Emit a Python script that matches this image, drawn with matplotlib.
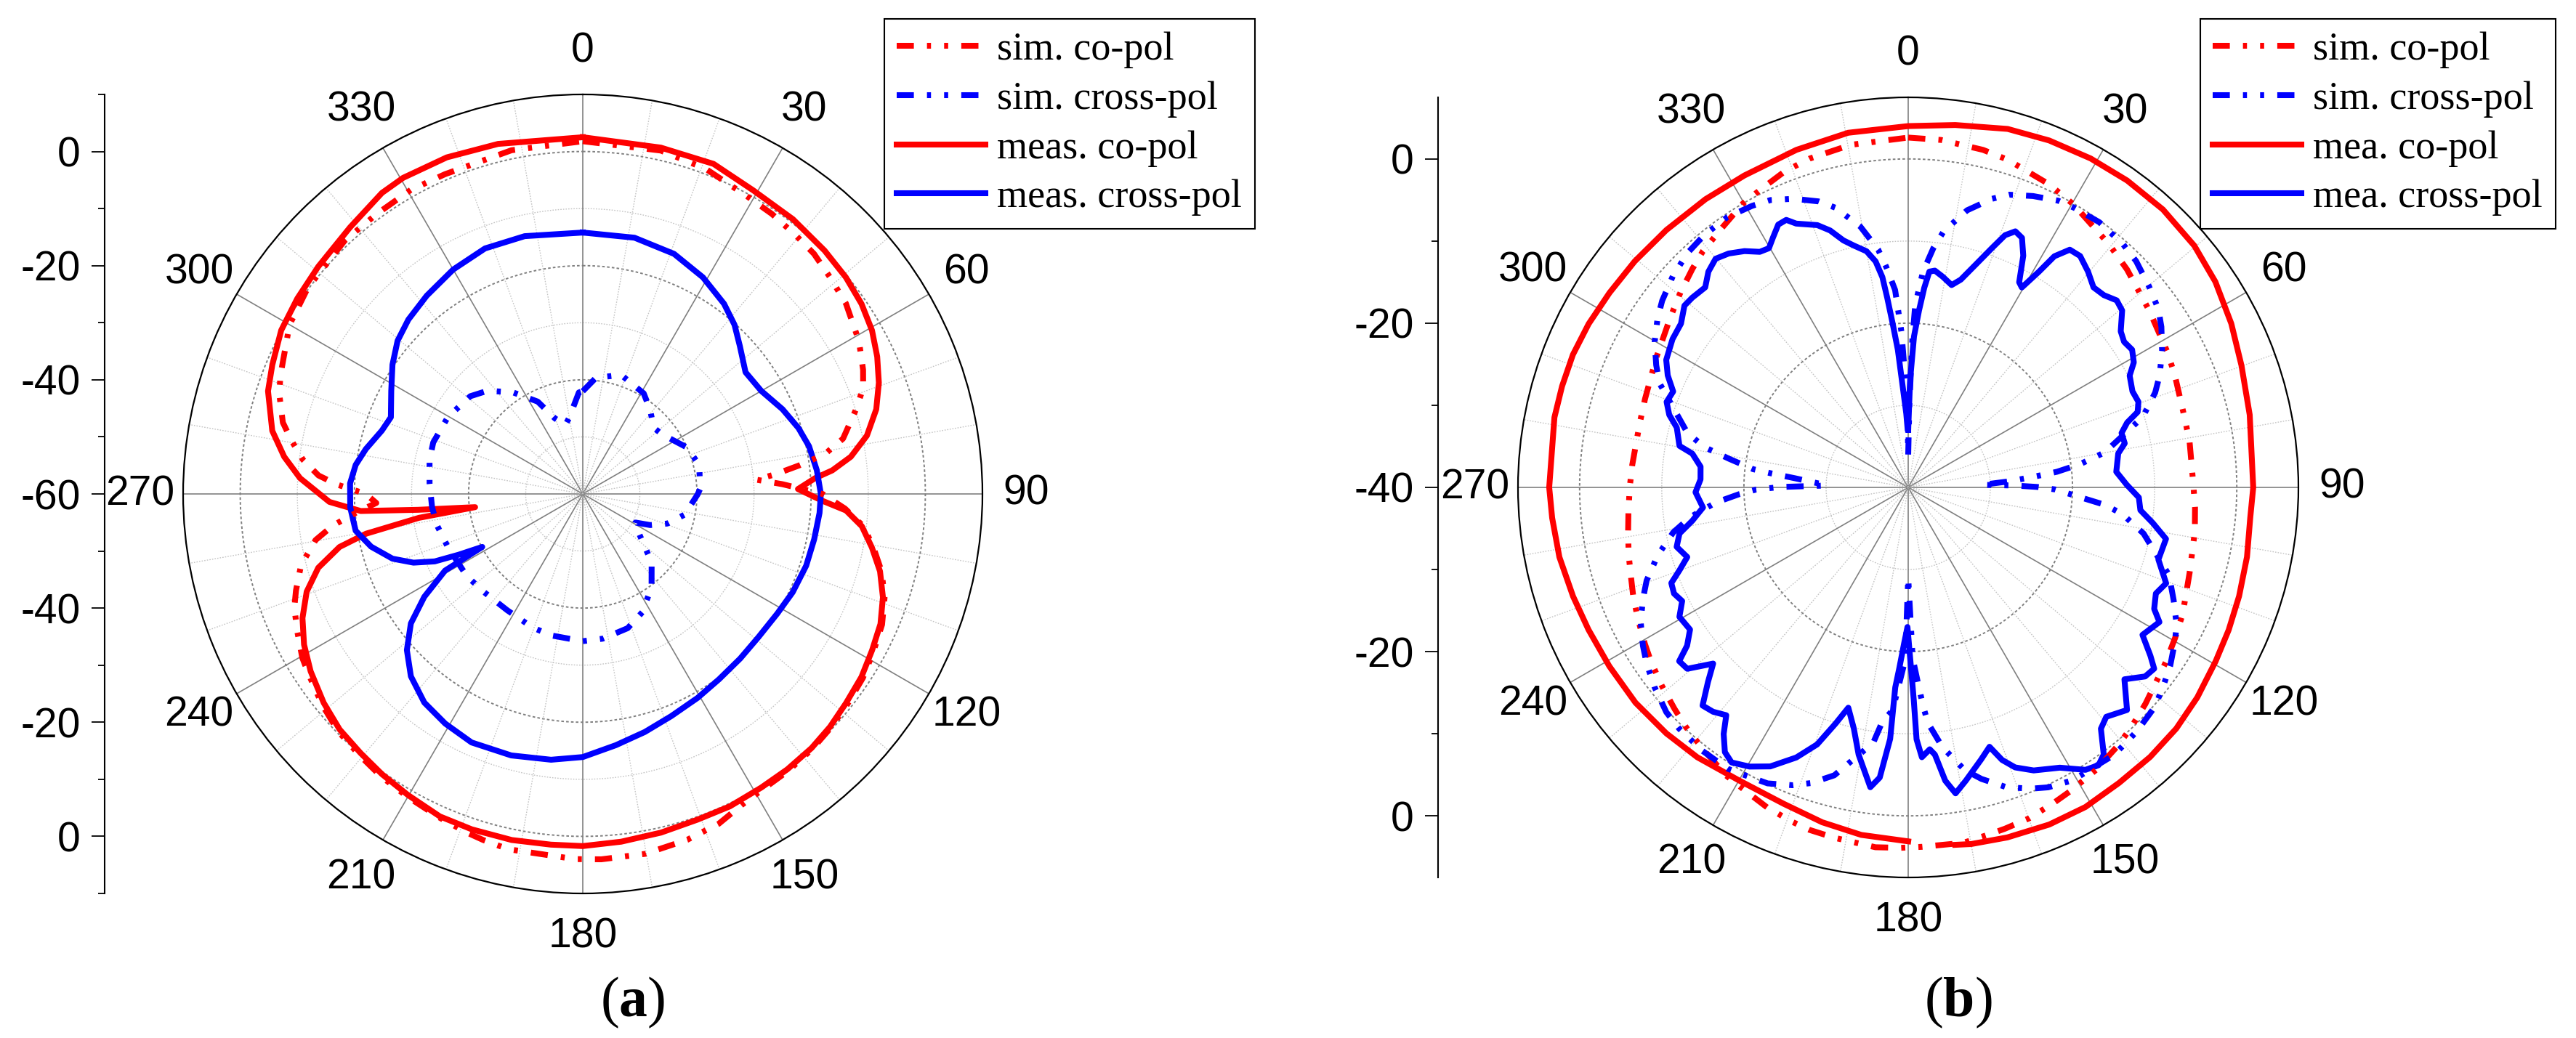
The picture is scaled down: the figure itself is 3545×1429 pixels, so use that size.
import numpy as np
import matplotlib
matplotlib.use('Agg')
import matplotlib.pyplot as plt

plt.rcParams['font.family'] = ['Liberation Sans', 'DejaVu Sans']
plt.rcParams['lines.scale_dashes'] = False
plt.rcParams['mathtext.fontset'] = 'custom'
plt.rcParams['mathtext.rm'] = 'Liberation Serif'
plt.rcParams['mathtext.bf'] = 'Liberation Serif:bold'

# ---------------- panel (a) data: angle (deg), level (dB) ----------------
a_sim_co_ang = [0, 12.8, 20.7, 28.6, 34.0, 39.4, 43.9, 48.7, 54.1, 61.0, 66.1, 69.3, 72.8, 78.0,
                80.7, 82.5, 84.2, 85.3, 87.2, 90.0, 93.2, 96.6, 100.5, 104.6, 109.0, 113.6, 118.4,
                123.3, 128.5, 133.3, 138.0, 143.4, 148.7, 153.0, 157.6, 163.2, 170.2, 177.1, 181.2,
                191.8, 196.0, 199.0, 204.0, 210.1, 215.6, 220.6, 225.9, 231.1, 236.5, 239.7, 244.3,
                248.5, 251.4, 255.8, 260.2, 262.8, 265.5, 267.5, 270.0, 272.2, 274.0, 277.0, 280.3,
                283.4, 288.3, 291.5, 300.0, 306.9, 316.8, 323.7, 330.5, 336.7, 348.3]
a_sim_co_db = [1.8, 1.7, 0.9, -0.4, -0.8, -1.3, -1.6, -2.4, -3.1, -4.7, -6.3, -7.5, -9.9, -13.4,
               -17.1, -21.8, -26.2, -29.5, -25.0, -18.0, -14.0, -10.5, -8.2, -5.9, -4.1, -2.8, -2.1,
               -1.3, -0.8, -0.3, 0.1, 0.4, 0.6, 1.2, 2.5, 3.3, 4.0, 4.1, 4.0,
               3.6, 3.1, 2.7, 2.0, 1.3, 0.8, 0.2, -0.3, -1.3, -2.5, -3.1, -4.5,
               -5.7, -7.0, -9.1, -12.5, -15.9, -20.5, -23.8, -22.0, -16.9, -13.6, -10.6, -8.2,
               -6.0, -4.0, -3.1, -0.7, 0.2, 0.9, 0.9, 1.2, 1.0, 1.5]

a_sim_x_ang = [0, 6.5, 17.9, 31.2, 38.6, 47.0, 52.0, 57.0, 66.0, 76.0, 87.4, 90.3, 101.5, 109.3,
               114.8, 118.5, 121.0, 125.0, 129.3, 134.8, 143.6, 153.3, 161.5, 172.2, 180.0, 192.6,
               200.6, 212.9, 225.4, 234.8, 248.6, 257.7, 265.0, 274.0, 282.6, 289.0, 299.6, 311.0,
               317.3, 325.5, 334.0, 339.8, 346.0, 350.0, 357.8]
a_sim_x_db = [-42.0, -39.5, -38.1, -39.4, -41.1, -43.0, -42.7, -42.0, -40.0, -39.0, -39.4, -39.9,
              -41.8, -44.3, -47.0, -49.5, -49.4, -48.0, -46.3, -43.0, -39.7, -36.8, -35.2, -34.4,
              -34.2, -34.6, -35.0, -35.7, -35.6, -35.1, -34.6, -33.9, -33.5, -33.1, -32.5, -32.3,
              -32.8, -33.9, -35.4, -38.4, -42.0, -45.9, -47.5, -46.4, -42.2]

a_meas_co_ang = [0, 12.7, 21.6, 29.3, 37.4, 44.8, 50.5, 55.7, 60.5, 65.0, 69.4, 73.9, 78.4, 82.1,
                 84.6, 86.1, 88.7, 91.7, 93.6, 96.6, 100.5, 104.6, 109.0, 113.6, 118.4, 123.3,
                 128.5, 133.3, 138.0, 143.4, 148.7, 154.8, 160.6, 167.0, 173.7, 180.0, 185.2,
                 191.6, 198.3, 203.9, 210.1, 215.6, 220.6, 225.9, 231.1, 236.9, 241.6, 246.1,
                 250.5, 254.4, 257.7, 259.6, 261.7, 263.0, 264.5, 265.6, 268.2, 273.2, 277.1,
                 281.5, 288.1, 292.6, 298.5, 304.4, 310.7, 318.9, 326.3, 330.4, 338.0, 346.4]
a_meas_co_db = [2.5, 2.2, 2.2, 1.0, 0.6, 0.1, -0.3, -0.9, -1.8, -3.1, -4.6, -6.5, -9.2, -12.6,
                -16.1, -19.2, -22.3, -17.9, -13.8, -10.8, -8.5, -6.2, -4.4, -3.1, -2.4, -1.6,
                -1.1, -0.5, -0.1, 0.1, 0.2, 0.5, 0.5, 0.9, 1.3, 1.7, 1.7,
                1.9, 1.9, 1.8, 1.0, 0.4, -0.2, -0.7, -1.7, -3.1, -4.5, -6.3,
                -8.7, -11.9, -16.4, -21.4, -31.0, -41.0, -31.0, -21.0, -15.6, -10.4, -7.3,
                -4.5, -2.0, -1.1, 0.1, 0.6, 1.1, 2.0, 3.4, 3.7, 3.6, 3.1]

a_meas_x_ang = [0, 11.4, 20.8, 29.0, 36.6, 41.9, 46.7, 53.2, 60.0, 67.0, 73.0, 78.1, 84.2, 90.0,
                94.6, 101.1, 107.8, 115.1, 121.6, 129.2, 136.3, 143.7, 150.6, 158.3, 165.4, 172.5,
                180.0, 186.8, 195.3, 204.1, 210.9, 217.2, 223.3, 228.4, 233.0, 237.0, 240.9, 242.2,
                243.9, 245.5, 247.9, 251.2, 256.0, 260.8, 266.7, 272.6, 277.3, 281.7, 287.5, 291.8,
                298.3, 304.2, 309.6, 315.0, 321.8, 330.0, 338.3, 347.3]
a_meas_x_db = [-14.2, -14.2, -15.0, -16.6, -18.5, -20.2, -22.2, -24.4, -23.9, -22.0, -20.5, -19.5,
               -18.8, -18.3, -18.4, -18.7, -18.9, -19.4, -20.0, -20.3, -20.1, -19.7, -19.0, -18.1,
               -16.9, -15.6, -13.9, -13.1, -12.5, -12.3, -13.1, -14.1, -16.1, -18.8, -22.3, -26.9,
               -32.4, -40.1, -35.8, -31.5, -28.0, -24.8, -21.8, -19.7, -19.2, -19.2, -19.9, -21.2,
               -23.1, -23.8, -21.9, -19.7, -17.9, -16.8, -15.8, -14.6, -13.7, -13.7]

# ---------------- panel (b) data ----------------
b_sim_co_ang = [0, 5.4, 12.5, 16.9, 24.9, 30.3, 39.5, 45.1, 53.7, 62.4, 67.3, 75.8, 80.8, 89.2,
                94.0, 98.7, 106.9, 114.8, 119.4, 124.2, 132.4, 137.2, 140.9, 146.4, 151.7, 155.2,
                159.9, 164.2, 167.1, 171.2, 177.8, 181.2, 185.2, 191.9, 196.1, 199.1, 203.7, 208.4,
                212.3, 218.1, 222.8, 226.5, 231.2, 236.0, 239.2, 244.0, 248.4, 251.8, 256.5, 261.2,
                264.8, 270.0, 274.7, 283.4, 288.6, 297.3, 305.6, 310.6, 315.4, 319.0, 324.4, 329.8,
                333.8, 338.6, 343.3, 350.5]
b_sim_co_db = [2.6, 2.5, 2.1, 1.7, 0.7, -0.1, -1.6, -2.4, -3.6, -4.4, -4.8, -5.3, -5.3, -5.3,
               -5.0, -4.7, -4.2, -3.2, -2.7, -2.1, -0.9, -0.1, 0.5, 1.3, 1.9, 2.3,
               2.9, 3.2, 3.4, 3.8, 3.8, 3.9, 4.0, 3.6, 3.4, 3.1, 2.6, 1.9,
               1.5, 0.5, -0.2, -0.8, -1.5, -2.2, -2.7, -3.4, -4.0, -4.5, -5.0, -5.5,
               -5.8, -6.1, -6.3, -6.4, -6.2, -5.5, -4.4, -3.5, -2.6, -1.9, -1.1, 0.0,
               0.5, 1.3, 1.8, 2.3]

b_sim_x_ang = [0, 0.8, 1.6, 2.2, 3.9, 6.0, 7.9, 12.0, 16.2, 19.0, 23.2, 27.6, 30.8, 35.8, 41.5,
               45.2, 50.1, 54.5, 57.6, 61.7, 66.0, 69.0, 73.3, 79.9, 82.3, 84.0, 84.9, 86.5, 88.0,
               89.0, 89.8, 90.8, 93.3, 95.0, 97.0, 101.1, 108.6, 113.0, 117.1, 120.0, 124.3, 128.5,
               131.8, 136.8, 142.4, 150.7, 155.0, 157.9, 161.9, 165.9, 168.7, 172.5, 175.2, 176.1,
               177.2, 178.5, 180.0, 181.0, 184.0, 186.3, 187.8, 194.4, 198.2, 201.2, 205.4, 209.6,
               212.7, 218.0, 223.5, 227.1, 231.8, 236.0, 239.2, 243.5, 247.5, 250.4, 254.8, 259.2,
               262.3, 265.5, 267.7, 269.2, 270.2, 271.3, 272.5, 274.6, 275.9, 276.7, 279.1, 281.2,
               283.9, 292.7, 295.9, 299.9, 304.0, 307.2, 311.9, 316.8, 321.0, 326.2, 331.0, 334.4,
               338.4, 342.6, 345.4, 349.6, 352.8, 354.3, 356.2, 357.5, 358.8, 359.6]
b_sim_x_db = [-36.0, -30.0, -22.0, -17.8, -13.7, -10.7, -8.5, -5.5, -3.4, -2.3, -1.4, -0.6, -0.4,
              -0.2, -0.5, -0.9, -1.8, -2.6, -3.5, -4.9, -6.5, -7.8, -10.2, -15.7, -18.9, -21.8,
              -24.1, -27.5, -31.0, -27.0, -24.3, -22.1, -19.0, -16.1, -13.8, -10.8, -6.5, -4.9,
              -3.3, -2.5, -1.4, -0.5, 0.2, 0.7, 1.1, 0.9, 0.3, -0.4, -1.6, -3.4, -4.9, -8.1,
              -11.2, -13.3, -16.3, -19.2, -29.0, -19.0, -12.8, -11.3, -8.6, -3.8, -2.1, -1.1,
              -0.1, 0.3, 0.7, 0.7, 0.5, 0.2, -0.7, -1.6, -2.4, -3.6, -5.1, -6.2, -8.4, -10.9,
              -13.3, -16.5, -19.4, -21.5, -24.5, -30.0, -29.1, -26.2, -23.1, -21.0, -17.9, -14.7,
              -12.3, -7.2, -5.9, -4.4, -3.2, -2.4, -1.5, -0.8, -0.5, -0.4, -0.8, -1.2,
              -2.2, -3.5, -4.8, -7.7, -10.8, -13.0, -15.9, -21.0, -28.0, -33.0]

# measured co-pol of (b) runs from -180 to 172.5 deg (open at the back)
b_meas_co_ang = [-180, -172.3, -165.6, -158.5, -150.0, -142.0, -135.5, -128.3, -120.9, -114.0,
                 -108.0, -101.3, -94.9, -90.0, -78.8, -73.7, -68.4, -62.9, -56.9, -50.4, -43.2,
                 -35.1, -27.7, -18.3, -9.6, 0, 7.4, 15.5, 22.1, 29.0, 35.5, 42.5, 49.8, 56.2,
                 63.1, 69.9, 78.0, 90.0, 95.1, 101.6, 108.2, 114.0, 119.5, 126.0, 132.0, 138.1,
                 144.5, 151.0, 157.3, 164.2, 170.0, 172.5]
b_meas_co_db = [3.1, 2.7, 2.1, 1.4, 1.2, 1.7, 2.0, 2.3, 2.4, 2.6,
                2.9, 3.3, 3.5, 3.7, 3.9, 3.9, 3.9, 3.7, 3.4, 3.2, 3.0,
                2.9, 2.9, 3.3, 3.8, 4.0, 4.5, 5.3, 5.6, 5.8, 5.9, 5.9, 5.6, 5.0,
                4.1, 3.2, 2.5, 2.0, 1.8, 2.1, 2.4, 2.7, 3.0, 3.5, 3.9, 4.1,
                4.2, 4.5, 4.5, 4.3, 4.1, 3.9]

b_meas_x_ang = [0, 1.0, 2.2, 3.5, 4.6, 5.6, 7.0, 9.3, 12.1, 14.2, 16.9, 19.3, 21.0, 22.7, 24.5,
                26.4, 28.4, 29.6, 31.2, 32.3, 34.2, 36.6, 39.8, 42.8, 45.5, 48.1, 50.4, 53.7, 56.0,
                58.4, 61.0, 63.2, 66.8, 69.6, 71.8, 73.5, 75.7, 78.5, 80.8, 85.7, 89.3, 92.5, 95.6,
                98.3, 101.3, 106.1, 110.4, 113.2, 116.3, 118.2, 122.2, 124.8, 126.4, 128.6, 131.6,
                135.5, 139.2, 141.4, 143.8, 145.6, 147.9, 151.6, 156.1, 159.1, 161.0, 162.6, 165.0,
                168.9, 171.2, 172.8, 174.3, 175.3, 177.1, 178.1, 178.5, 179.5, 180.3, 181.5, 182.8,
                183.7, 184.1, 185.6, 187.2, 190.5, 192.7, 195.2, 197.1, 199.5, 202.5, 206.3, 209.6,
                212.7, 214.7, 216.8, 218.6, 221.0, 223.3, 225.8, 227.9, 230.6, 232.8, 234.4, 236.9,
                240.5, 243.3, 245.6, 248.0, 250.1, 252.5, 255.6, 258.6, 261.2, 264.4, 268.7, 272.2,
                275.7, 278.9, 280.3, 284.5, 286.9, 289.5, 292.2, 295.0, 297.8, 302.2, 305.8, 309.1,
                311.3, 314.6, 317.2, 319.9, 322.5, 325.3, 327.8, 329.8, 331.6, 333.7, 335.5, 337.0,
                340.9, 343.1, 345.3, 347.3, 350.0, 351.8, 353.0, 353.7, 354.6, 355.7, 357.0, 358.5,
                359.5]
b_meas_x_db = [-33.0, -27.0, -21.6, -18.4, -15.6, -13.6, -13.4, -14.0, -14.8, -13.9, -11.6, -9.1,
               -7.1, -6.2, -6.6, -8.5, -11.6, -12.0, -9.3, -6.7, -5.0, -4.9, -5.8, -6.8, -6.6,
               -5.9, -6.2, -7.9, -8.3, -8.0, -8.6, -9.8, -10.3, -10.1, -10.6, -12.2, -13.2, -13.1,
               -14.1, -14.6, -13.4, -11.9, -11.6, -9.9, -8.0, -8.3, -6.5, -7.2, -6.6, -5.3, -6.3,
               -4.1, -2.8, -3.1, -4.8, -2.0, -3.1, -2.4, 0.3, 1.0, 0.6, -1.2, -2.3, -3.5, -4.9,
               -6.9, -5.7, -3.6, -2.3, -4.0, -7.3, -8.0, -7.1, -9.3, -14.1, -20.0, -23.0, -21.0,
               -18.0, -15.6, -9.3, -4.5, -3.2, -6.9, -9.9, -12.2, -9.9, -6.8, -4.4, -2.1, -0.9,
               -0.2, -0.8, -2.5, -4.5, -3.8, -3.5, -6.0, -8.0, -5.2, -5.0, -6.9, -8.3,
               -8.0, -9.2, -8.7, -8.9, -10.4, -11.8, -10.9, -11.6, -13.4, -14.9, -14.1, -14.7,
               -14.6, -13.4, -11.7, -10.9, -9.6, -8.8, -9.1, -7.7, -6.7, -6.1, -5.9, -4.9,
               -5.0, -5.3, -4.2, -3.6, -4.1, -5.0, -6.1, -6.3, -5.4, -4.3, -4.2, -5.1,
               -6.2, -7.3, -8.9, -9.8, -10.8, -12.2, -14.2, -16.8, -20.0, -23.2, -28.0, -31.0,
               -33.0]

legend_labels_a = ['sim. co-pol', 'sim. cross-pol', 'meas. co-pol', 'meas. cross-pol']
legend_labels_b = ['sim. co-pol', 'sim. cross-pol', 'mea. co-pol', 'mea. cross-pol']

# ---------------- figure ----------------
W, H, DPI = 3545, 1429, 100
fig = plt.figure(figsize=(W / DPI, H / DPI), dpi=DPI)

RED = '#ff0000'
BLUE = '#0000ff'
LW = 5.8
SIM_LS = (0, (17, 13, 4, 13, 4, 13))
TICK_FS = 41


def closed(ang, val):
    ang = np.asarray(ang, float)
    val = np.asarray(val, float)
    return np.deg2rad(np.append(ang, ang[0] + 360)), np.append(val, val[0])


def make_polar(cx, cy, rad, rmin, rmax, dark, light):
    rect = [(cx - rad) / W, 1 - (cy + rad) / H, 2 * rad / W, 2 * rad / H]
    ax = fig.add_axes(rect, projection='polar')
    ax.set_theta_zero_location('N')
    ax.set_theta_direction(-1)
    ax.set_ylim(rmin, rmax)
    ax.grid(False)
    ax.set_yticks([])
    th = np.linspace(0, 2 * np.pi, 721)
    for r in light:
        ax.plot(th, np.full_like(th, r), color='#c4c4c4', lw=1.0, ls=(0, (1.2, 1.4)), zorder=1)
    for r in dark:
        ax.plot(th, np.full_like(th, r), color='#808080', lw=1.4, ls=(0, (2.6, 2.2)), zorder=1)
    for d in range(0, 360, 10):
        t = np.deg2rad(d)
        if d % 30 == 0:
            ax.plot([t, t], [rmin, rmax], color='#808080', lw=1.2, zorder=1)
        else:
            ax.plot([t, t], [rmin, rmax], color='#c4c4c4', lw=1.0, ls=(0, (1.2, 1.4)), zorder=1)
    degs = np.arange(0, 360, 10)
    ax.set_xticks(np.deg2rad(degs))
    ax.set_xticklabels([str(d) if d % 30 == 0 else '' for d in degs])
    ax.tick_params(axis='x', direction='in', length=10, width=1.2, pad=36, labelsize=TICK_FS)
    ax.spines['polar'].set_linewidth(1.6)
    ax.spines['polar'].set_color('black')
    return ax, rect


def make_raxis(x, rect, rmin, rmax, majors, minors):
    ax = fig.add_axes([x / W, rect[1], 0.0005, rect[3]])
    span = rmax - rmin
    ax.set_ylim(-span, span)
    ax.set_xticks([])
    for s in ['top', 'right', 'bottom']:
        ax.spines[s].set_visible(False)
    ax.spines['left'].set_linewidth(1.5)
    ax.patch.set_visible(False)
    pos = sorted(set([v - rmin for v in majors] + [rmin - v for v in majors]))
    ax.set_yticks(pos)
    ax.set_yticklabels([str(int(round(rmin + abs(p)))) for p in pos])
    mpos = sorted(set([v - rmin for v in minors] + [rmin - v for v in minors]))
    ax.set_yticks(mpos, minor=True)
    ax.tick_params(axis='y', which='major', length=13, width=1.3, pad=11, labelsize=TICK_FS)
    ax.tick_params(axis='y', which='minor', length=6.5, width=1.3)
    return ax


def draw_curves(ax, sim_co, sim_x, meas_co, meas_x):
    h1, = ax.plot(*sim_co, color=RED, lw=LW, ls=SIM_LS, zorder=4)
    h2, = ax.plot(*sim_x, color=BLUE, lw=LW, ls=SIM_LS, zorder=4)
    h3, = ax.plot(*meas_co, color=RED, lw=LW, zorder=3, solid_joinstyle='round')
    h4, = ax.plot(*meas_x, color=BLUE, lw=LW, zorder=3, solid_joinstyle='round')
    return [h1, h2, h3, h4]


def add_legend(handles, labels, x, y):
    leg = fig.legend(handles, labels, loc='upper left', bbox_to_anchor=(x / W, 1 - y / H),
                     bbox_transform=fig.transFigure, prop={'family': 'Liberation Serif', 'size': 39},
                     frameon=True, fancybox=False, edgecolor='black', framealpha=1,
                     handlelength=2.25, handletextpad=0.3, labelspacing=0.32,
                     borderpad=0.32, borderaxespad=0)
    leg.get_frame().set_linewidth(1.5)


# panel (a)
ax_a, rect_a = make_polar(802, 680, 550, -60, 10, [0, -20, -40], [-10, -30, -50])
hs = draw_curves(ax_a,
                 closed(a_sim_co_ang, a_sim_co_db),
                 closed(a_sim_x_ang, a_sim_x_db),
                 closed(a_meas_co_ang, a_meas_co_db),
                 closed(a_meas_x_ang, a_meas_x_db))
make_raxis(144, rect_a, -60, 10, [0, -20, -40, -60], [10, -10, -30, -50])
add_legend(hs, legend_labels_a, 1217, 26)

# panel (b)
ax_b, rect_b = make_polar(2626, 671, 537, -40, 7.5, [0, -20], [-10, -30])
hs = draw_curves(ax_b,
                 closed(b_sim_co_ang, b_sim_co_db),
                 closed(b_sim_x_ang, b_sim_x_db),
                 (np.deg2rad(b_meas_co_ang), np.array(b_meas_co_db)),
                 closed(b_meas_x_ang, b_meas_x_db))
make_raxis(1979, rect_b, -40, 7.5, [0, -20, -40], [-10, -30])
add_legend(hs, legend_labels_b, 3028, 26)

fig.text(871 / W, 1 - 1380 / H, r'($\mathbf{a}$)', family='Liberation Serif', fontsize=56,
         ha='center', va='center')
fig.text(2695 / W, 1 - 1380 / H, r'($\mathbf{b}$)', family='Liberation Serif', fontsize=56,
         ha='center', va='center')

fig.savefig('out.png', dpi=DPI, facecolor='white')
